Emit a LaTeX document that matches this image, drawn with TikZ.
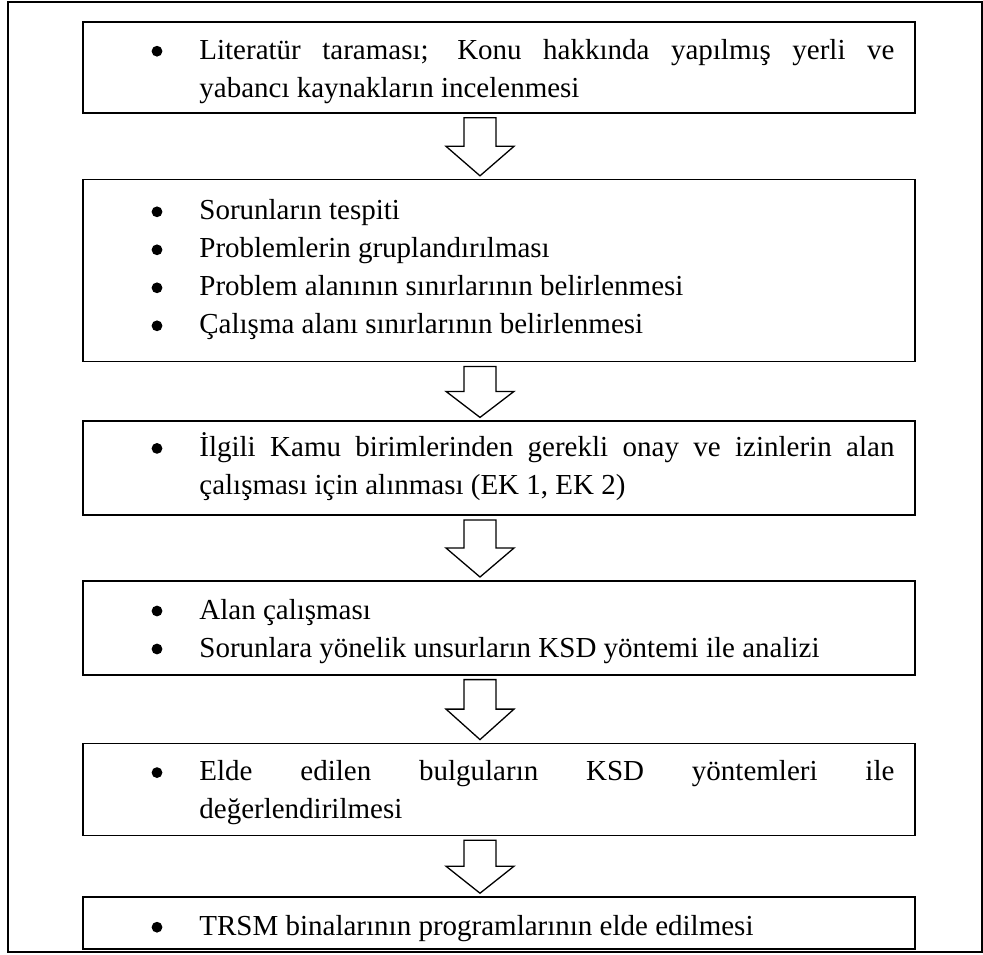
\documentclass[tikz,border=0pt]{standalone}
\usepackage{fontspec}
\setmainfont{Liberation Serif}
\usetikzlibrary{positioning, calc}

\newcommand{\blt}{\leavevmode\llap{\tikz[baseline=-8pt]\path[fill=black, draw=none] (0pt,0pt) circle (5.4pt);\hspace{37pt}}}

\begin{document}
\begin{tikzpicture}[
  x=1pt, y=1pt,
  stage/.style={draw, line width=1.6pt, minimum width=832pt, inner sep=0pt},
  txt/.style={text width=695pt, align=justify, inner sep=0pt, anchor=base west,
              font=\fontsize{29}{38}\selectfont},
  flow/.style={draw, line width=1.3pt, fill=white}
]
\useasboundingbox (0,0) rectangle (983,-954);

% outer frame
\draw[line width=1.8pt] (8,-2) rectangle (982,-952);

% stages
\node[stage, minimum height=91pt] (b1) at (499,-67.5) {};
\node[stage, minimum height=182pt, below=65pt of b1] (b2) {};
\node[stage, minimum height=94pt, below=58pt of b2] (b3) {};
\node[stage, minimum height=94pt, below=64pt of b3] (b4) {};
\node[stage, minimum height=92pt, below=67pt of b4] (b5) {};
\node[stage, minimum height=52pt, below=60pt of b5] (b6) {};

% texts
\node[txt] (t1) at ($(b1.north west)+(117,-38)$)
  {\blt Literatür taraması; Konu hakkında yapılmış yerli ve\linebreak
   yabancı kaynakların incelenmesi};
\node[txt] (t2) at ($(b2.north west)+(117,-41)$)
  {\blt Sorunların tespiti\par
   \blt Problemlerin gruplandırılması\par
   \blt Problem alanının sınırlarının belirlenmesi\par
   \blt Çalışma alanı sınırlarının belirlenmesi};
\node[txt] (t3) at ($(b3.north west)+(117,-36)$)
  {\blt İlgili Kamu birimlerinden gerekli onay ve izinlerin alan\linebreak
   çalışması için alınması (EK 1, EK 2)};
\node[txt] (t4) at ($(b4.north west)+(117,-39)$)
  {\blt Alan çalışması\par
   \blt Sorunlara yönelik unsurların KSD yöntemi ile analizi};
\node[txt] (t5) at ($(b5.north west)+(117,-38)$)
  {\blt Elde edilen bulguların KSD yöntemleri ile\linebreak
   değerlendirilmesi};
\node[txt] (t6) at ($(b6.north west)+(117,-39)$)
  {\blt TRSM binalarının programlarının elde edilmesi};

% block arrows
\foreach \from/\to in {b1/b2, b2/b3, b3/b4, b4/b5, b5/b6}
  \draw[flow] let \p1=(\from.south), \p2=(\to.north),
                  \p3=($(\from.south)!0.5!(\to.north)$) in
    (\x1-35pt,\y1-4pt) -- (\x1-3pt,\y1-4pt) -- (\x1-3pt,\y3)
    -- (\x1+15pt,\y3) -- (\x1-19pt,\y2+3pt) -- (\x1-53pt,\y3)
    -- (\x1-35pt,\y3) -- cycle;

\end{tikzpicture}
\end{document}
